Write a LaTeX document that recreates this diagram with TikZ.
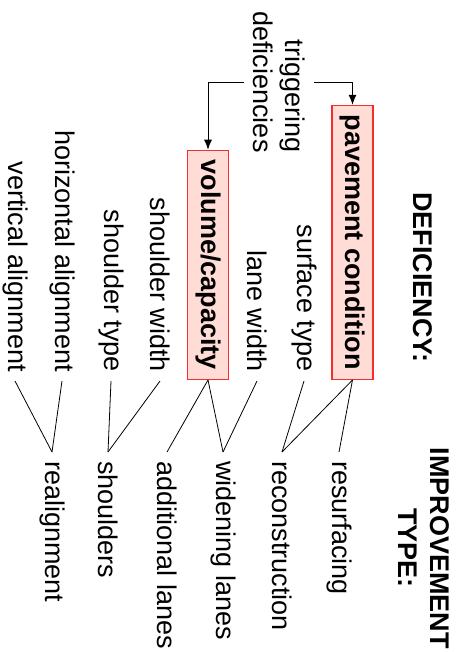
\documentclass[tikz,border=0pt]{standalone}
\usepackage{fontspec}
\setmainfont{Liberation Sans}
\usetikzlibrary{arrows.meta}
\definecolor{boxfill}{RGB}{255,221,214}
\definecolor{boxline}{RGB}{245,45,45}
\begin{document}
\begin{tikzpicture}[x=1pt,y=1pt,
  every node/.style={font=\fontsize{27}{32}\selectfont, rotate=-90, inner sep=9pt},
  item/.style={},
  title/.style={font=\fontsize{27}{32}\selectfont\bfseries, align=center},
  catbox/.style={draw=boxline, line width=1.2pt, fill=boxfill,
    font=\fontsize{27}{32}\selectfont\bfseries, inner xsep=9.5pt, inner ysep=0pt,
    minimum height=41pt},
  link/.style={line width=0.8pt},
  feed/.style={line width=0.8pt, -{Latex[length=10pt,width=8pt]}}]
\useasboundingbox (0,0) rectangle (458,-652);

% headings
\node[title] (hdef) at (423,-277.5) {DEFICIENCY:};
\node[title] (himp) at (424,-548) {IMPROVEMENT\\TYPE:};

% deficiency categories
\node[catbox, anchor=east] (pav) at (352.5,-380) {pavement condition};
\node[catbox, anchor=east] (vol) at (208,-380) {volume/capacity};

% triggering deficiencies
\node[align=right] (trig) at (279,-82) {triggering\\deficiencies};
\node[item, anchor=east] (surf) at (304,-381) {surface type};
\node[item, anchor=east] (lanew) at (257,-381) {lane width};
\node[item, anchor=east] (shw) at (160,-381) {shoulder width};
\node[item, anchor=east] (sht) at (111,-381) {shoulder type};
\node[item, anchor=east] (hal) at (62,-381) {horizontal alignment};
\node[item, anchor=east] (val) at (15,-381) {vertical alignment};

% improvement types
\node[item, anchor=west] (resurf) at (339,-452) {resurfacing};
\node[item, anchor=west] (recon) at (282,-452) {reconstruction};
\node[item, anchor=west] (widen) at (223,-452) {widening lanes};
\node[item, anchor=west] (addl) at (167,-452) {additional lanes};
\node[item, anchor=west] (shld) at (108,-452) {shoulders};
\node[item, anchor=west] (realign) at (52,-452) {realignment};

% arrows from the triggering label
\draw[feed] (trig.north) -| (pav.west);
\draw[feed] (trig.south) -| (vol.west);

% links to improvement types
\draw[link] (pav.east) -- (resurf.west);
\draw[link] (pav.east) -- (recon.west);
\draw[link] (surf.east) -- (recon.west);
\draw[link] (lanew.east) -- (widen.west);
\draw[link] (vol.east) -- (widen.west);
\draw[link] (vol.east) -- (addl.west);
\draw[link] (shw.east) -- (shld.west);
\draw[link] (sht.east) -- (shld.west);
\draw[link] (hal.east) -- (realign.west);
\draw[link] (val.east) -- (realign.west);
\end{tikzpicture}
\end{document}
